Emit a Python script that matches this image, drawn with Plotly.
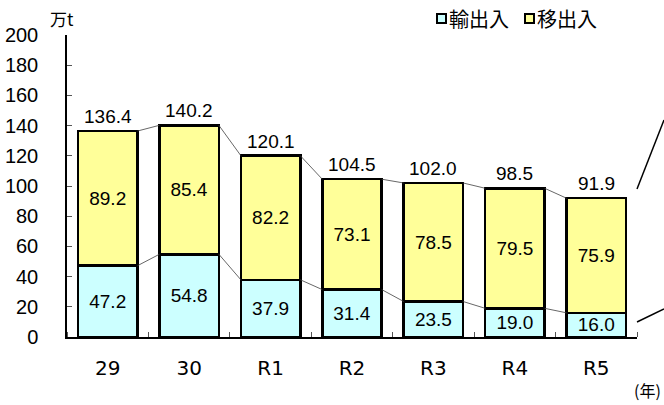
import plotly.graph_objects as go

categories = ["29", "30", "R1", "R2", "R3", "R4", "R5"]
export_import = [47.2, 54.8, 37.9, 31.4, 23.5, 19.0, 16.0]   # 輸出入
transfer = [89.2, 85.4, 82.2, 73.1, 78.5, 79.5, 75.9]        # 移出入
totals = [136.4, 140.2, 120.1, 104.5, 102.0, 98.5, 91.9]

CYAN = "#CCFFFF"
YELLOW = "#FFFF99"
BW = 0.73
NUM_FONT = "Liberation Sans, Arial, sans-serif"
JP_FONT = "Noto Sans CJK JP, sans-serif"

xs = list(range(len(categories)))
fig = go.Figure()

fig.add_trace(go.Bar(
    x=xs, y=export_import, width=BW, name="輸出入",
    marker=dict(color=CYAN, line=dict(color="black", width=2.5)),
    text=[f"{v:.1f}" for v in export_import], textposition="inside",
    insidetextanchor="middle", constraintext="none",
    textfont=dict(size=19, color="black", family=NUM_FONT),
    showlegend=False, hoverinfo="skip"))
fig.add_trace(go.Bar(
    x=xs, y=transfer, width=BW, name="移出入",
    marker=dict(color=YELLOW, line=dict(color="black", width=2.5)),
    text=[f"{v:.1f}" for v in transfer], textposition="inside",
    insidetextanchor="middle", constraintext="none",
    textfont=dict(size=19, color="black", family=NUM_FONT),
    showlegend=False, hoverinfo="skip"))

# connector lines
for series in (export_import, totals):
    for i in range(len(xs) - 1):
        fig.add_trace(go.Scatter(
            x=[xs[i] + BW / 2, xs[i + 1] - BW / 2],
            y=[series[i], series[i + 1]],
            mode="lines", line=dict(color="#404040", width=0.8),
            showlegend=False, hoverinfo="skip"))

# totals above bars
for x, t in zip(xs, totals):
    fig.add_annotation(x=x, y=t, text=f"{t:.1f}", showarrow=False,
                       yanchor="bottom", yshift=2,
                       font=dict(size=19, color="black", family=NUM_FONT))

fig.update_layout(
    barmode="stack",
    width=664, height=405,
    margin=dict(l=67, r=27, t=35, b=68, autoexpand=False),
    plot_bgcolor="white", paper_bgcolor="white",
    showlegend=False,
    xaxis=dict(
        range=[-0.5, len(xs) - 0.5], automargin=False,
        tickvals=xs, ticktext=categories,
        ticks="", showgrid=False, zeroline=False,
        showline=True, linecolor="black", linewidth=1.5,
        tickfont=dict(size=20, color="black", family="DejaVu Sans, sans-serif"),
        ticklabelstandoff=12,
        minor=dict(tickvals=[i + 0.5 for i in range(-1, len(xs))],
                   ticks="inside", ticklen=5, tickcolor="#555555", tickwidth=1),
    ),
    yaxis=dict(
        range=[0, 200], dtick=20, automargin=False,
        ticks="inside", ticklen=5, tickcolor="#555555",
        showgrid=False, zeroline=False,
        showline=True, linecolor="black", linewidth=1.5,
        tickfont=dict(size=20, color="black", family=NUM_FONT),
        ticklabelstandoff=23,
    ),
)

# unit label
fig.add_annotation(xref="paper", yref="paper", x=-0.008, y=1.0, yshift=17,
                   text="万t", showarrow=False, xanchor="center", yanchor="middle",
                   font=dict(size=17, color="black", family=JP_FONT))
fig.add_annotation(xref="paper", yref="paper", x=(663 - 67) / 570, y=0, yshift=-53,
                   text="(年)", showarrow=False, xanchor="right", yanchor="middle",
                   font=dict(size=16, color="black", family=JP_FONT))

# legend (manual)
for px, color, label in ((437, CYAN, "輸出入"), (525, YELLOW, "移出入")):
    x0 = (px - 67) / 570
    x1 = (px + 9 - 67) / 570
    y0 = (337 - 23) / 302
    y1 = (337 - 14) / 302
    fig.add_shape(type="rect", xref="paper", yref="paper", x0=x0, x1=x1, y0=y0, y1=y1,
                  line=dict(color="black", width=2), fillcolor=color)
    fig.add_annotation(xref="paper", yref="paper", x=(px + 10 - 67) / 570,
                       y=(337 - 18.5) / 302, text=label, showarrow=False,
                       xanchor="left", yanchor="middle",
                       font=dict(size=20, color="black", family=JP_FONT))

# decorative zoom lines at right edge
fig.add_shape(type="line", xref="paper", yref="paper",
              x0=(637 - 67) / 570, y0=(337 - 189) / 302,
              x1=(664 - 67) / 570, y1=(337 - 120) / 302,
              line=dict(color="black", width=1.5))
fig.add_shape(type="line", xref="paper", yref="paper",
              x0=(637 - 67) / 570, y0=(337 - 322) / 302,
              x1=(664 - 67) / 570, y1=(337 - 309) / 302,
              line=dict(color="black", width=1.5))

fig.write_html("out.html")
